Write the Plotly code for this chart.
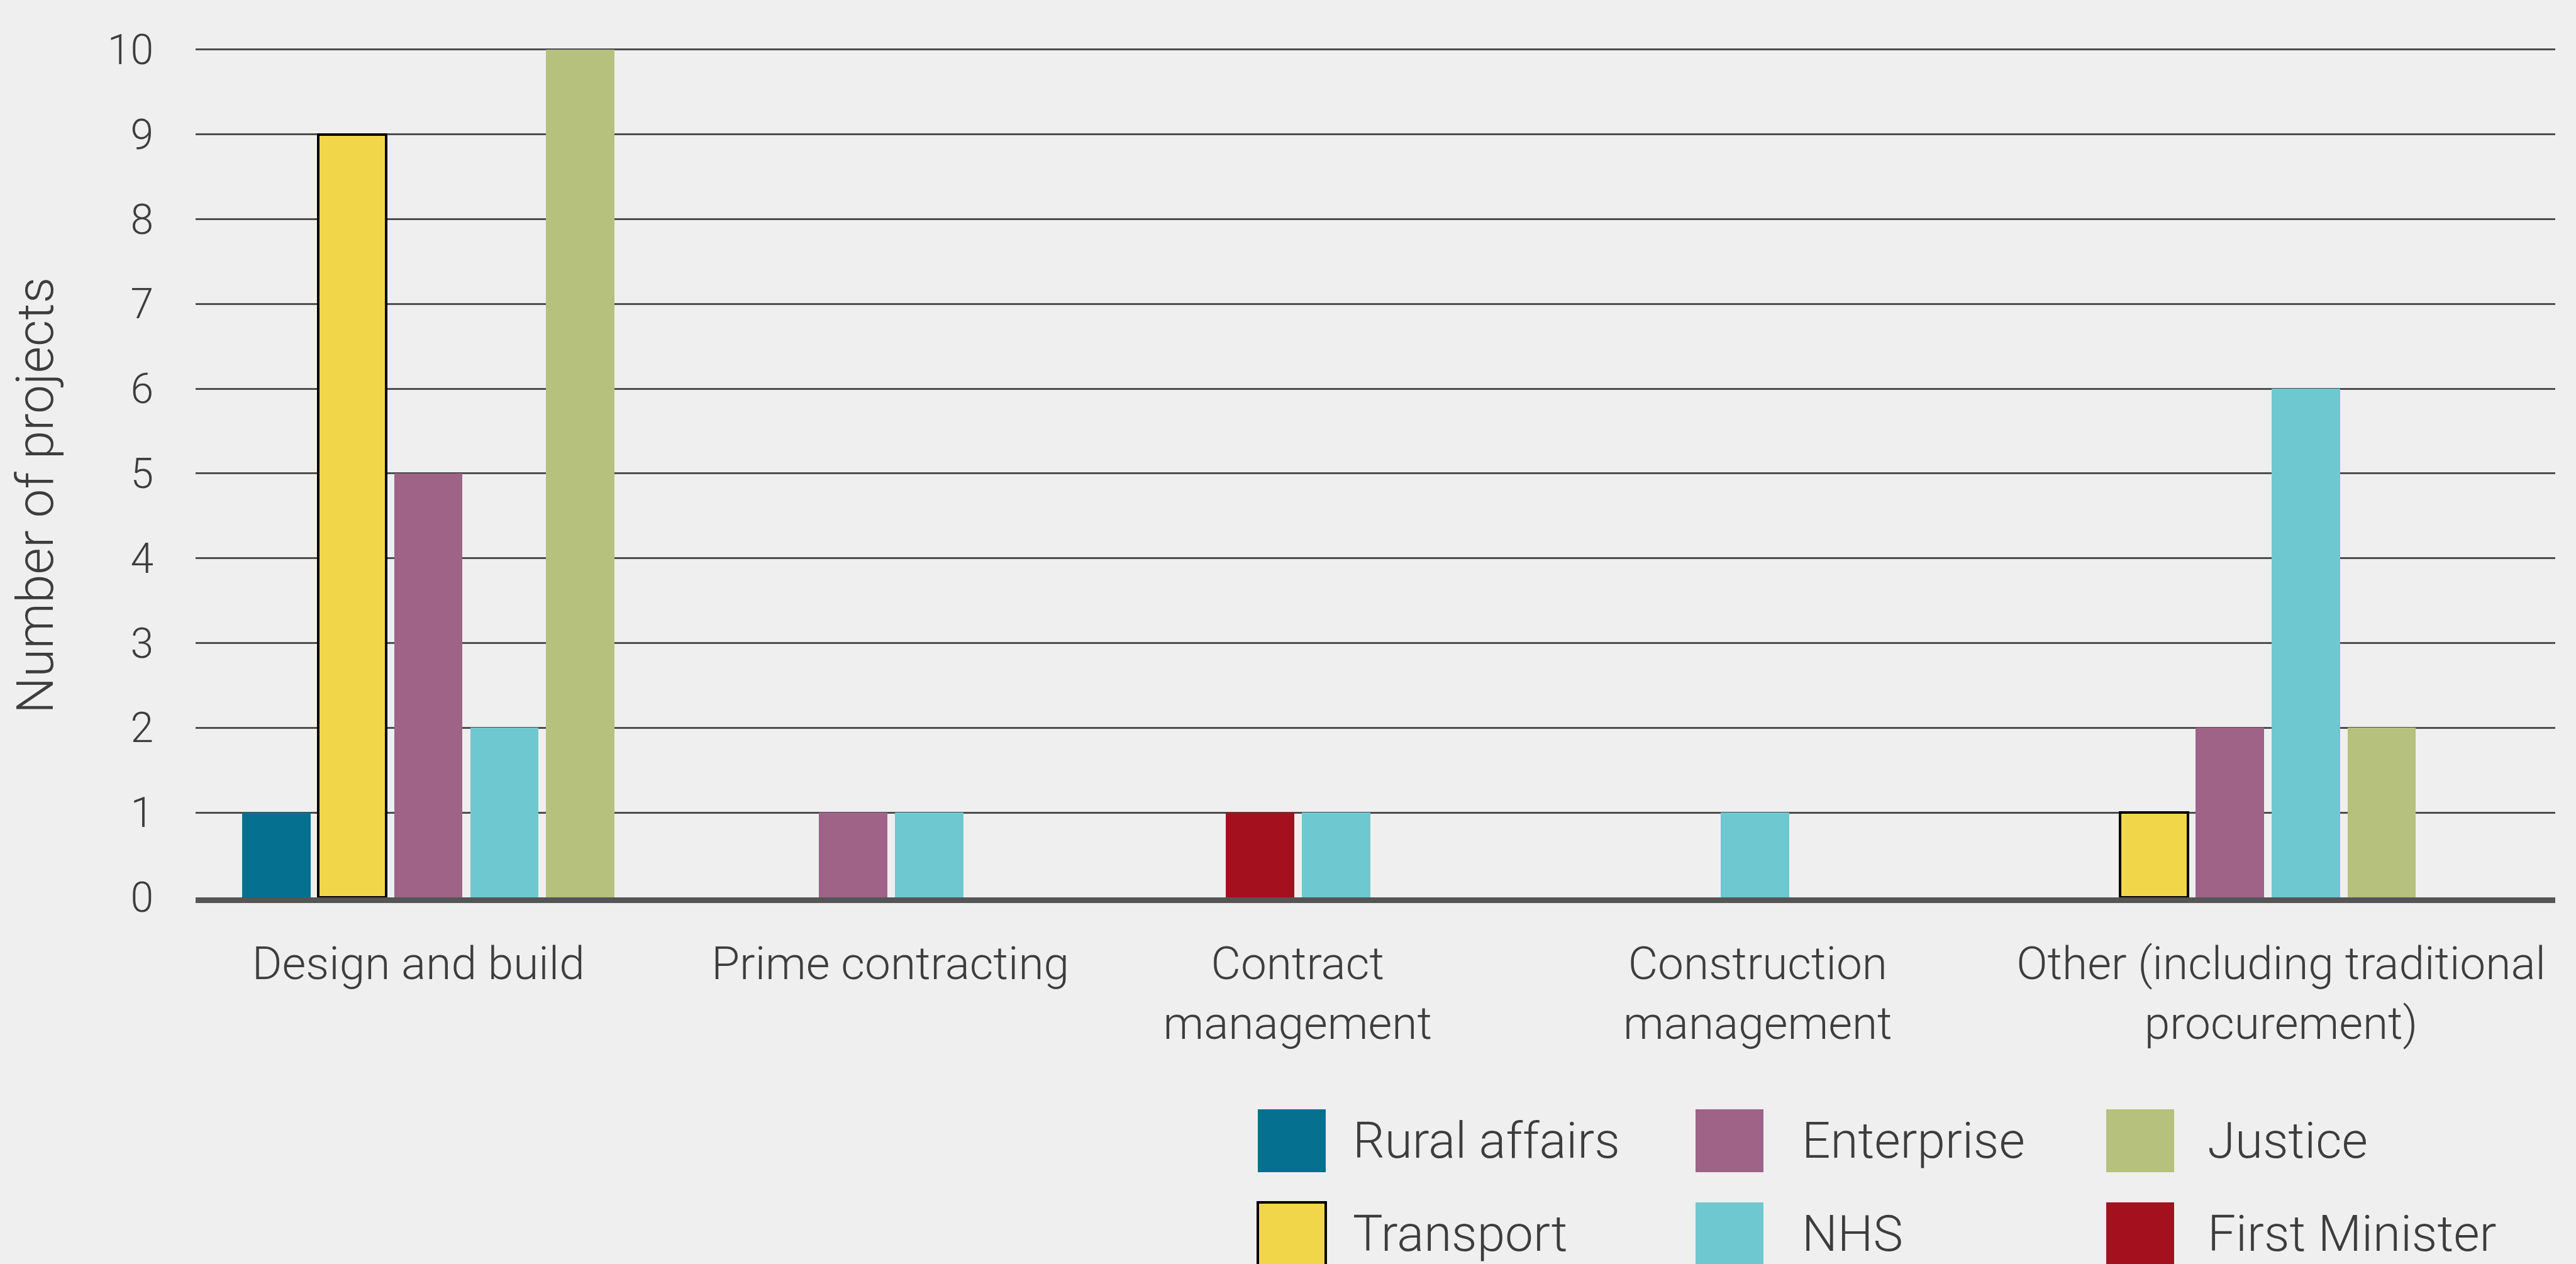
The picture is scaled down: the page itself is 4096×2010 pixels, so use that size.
import plotly.graph_objects as go

# ---- data -----------------------------------------------------------------
categories = [
    "Design and build",
    "Prime contracting",
    "Contract<br>management",
    "Construction<br>management",
    "Other (including traditional<br>procurement)",
]
rural_affairs = [1, 0, 0, 0, 0]
transport = [9, 0, 0, 0, 1]
enterprise = [5, 1, 0, 0, 2]
first_minister = [0, 0, 1, 0, 0]
nhs = [2, 1, 1, 1, 6]
justice = [10, 0, 0, 0, 2]
y_ticks = list(range(0, 11))

# order in which bars sit side by side inside a category
series = [
    ("Rural affairs", rural_affairs, "#05708f"),
    ("Transport", transport, "#f2d64a"),
    ("Enterprise", enterprise, "#9e6387"),
    ("First Minister", first_minister, "#a5101e"),
    ("NHS", nhs, "#6ec8d0"),
    ("Justice", justice, "#b5c17d"),
]
outlined = {"Transport"}

# legend grid: columns left to right, rows top to bottom
legend_grid = [["Rural affairs", "Transport"],
               ["Enterprise", "NHS"],
               ["Justice", "First Minister"]]

# ---- geometry ---------------------------------------------------------------
W, H = 4096, 2010
ML, MR, MT, MB = 311, 33, 52, 583
PW, PH = W - ML - MR, H - MT - MB
Y_MAX = 10.2
X_RANGE = [0, 5]
GROUP_POS = [0.493, 1.474, 2.336, 3.304, 4.391]   # centre of each bar cluster
LABEL_POS = [0.472, 1.472, 2.335, 3.310, 4.419]   # centre of each category label
SLOT = 0.161
BAR_W = 0.1445

FONT = "Roboto"
TEXT = "#3d3d3d"
BG = "#efefef"


def px_x(px):
    return (px - ML) / PW


def px_y(py):
    return (H - MB - py) / PH


# place the non-empty bars of every category next to each other, centred
positions = {name: ([], []) for name, _, _ in series}
for i, centre in enumerate(GROUP_POS):
    present = [(name, vals[i]) for name, vals, _ in series if vals[i] > 0]
    n = len(present)
    for k, (name, v) in enumerate(present):
        positions[name][0].append(centre + (k - (n - 1) / 2) * SLOT)
        positions[name][1].append(v)

fig = go.Figure()
for name, vals, colour in series:
    xs, ys = positions[name]
    fig.add_trace(go.Bar(
        x=xs, y=ys, name=name, width=BAR_W,
        marker=dict(color=colour,
                    line=dict(color="#000000",
                              width=4 if name in outlined else 0)),
        showlegend=False,
    ))

# ---- legend drawn as swatches + labels --------------------------------------
colour_of = {name: c for name, _, c in series}
LEG_SWATCH_X = [2000, 2696, 3349]
LEG_TEXT_X = [2149, 2863, 3508]
LEG_ROW_Y = [1764, 1912]
SW_W, SW_H = 108, 100

shapes = []
annotations = []
for c, column in enumerate(legend_grid):
    for r, name in enumerate(column):
        x0, y0 = LEG_SWATCH_X[c], LEG_ROW_Y[r]
        shapes.append(dict(
            type="rect", xref="paper", yref="paper",
            x0=px_x(x0), x1=px_x(x0 + SW_W),
            y0=px_y(y0), y1=px_y(y0 + SW_H),
            fillcolor=colour_of[name],
            line=dict(color="#000000", width=4) if name in outlined
            else dict(width=0),
            layer="above",
        ))
        annotations.append(dict(
            text=name, xref="paper", yref="paper",
            x=px_x(LEG_TEXT_X[c]), y=px_y(y0 + SW_H / 2),
            xanchor="left", yanchor="middle", showarrow=False,
            font=dict(family=FONT, size=80, color=TEXT, weight=300),
        ))

# y-axis title
annotations.append(dict(
    text="Number of projects", xref="paper", yref="paper",
    x=px_x(56), y=px_y(788), textangle=-90,
    xanchor="center", yanchor="middle", showarrow=False,
    font=dict(family=FONT, size=82, color=TEXT, weight=300),
))

fig.update_layout(
    width=W, height=H,
    margin=dict(l=ML, r=MR, t=MT, b=MB, pad=0),
    paper_bgcolor=BG, plot_bgcolor=BG,
    barmode="overlay",
    bargap=0,
    shapes=shapes,
    annotations=annotations,
    font=dict(family=FONT, color=TEXT, weight=300),
    xaxis=dict(
        range=X_RANGE, tickmode="array",
        tickvals=LABEL_POS, ticktext=categories,
        showgrid=False, zeroline=False,
        showline=True, linecolor="#555555", linewidth=8.5,
        ticks="", ticklabelstandoff=34,
        tickfont=dict(family=FONT, size=73, color=TEXT, weight=300),
        fixedrange=True,
    ),
    yaxis=dict(
        range=[0, Y_MAX], tickmode="array", tickvals=y_ticks,
        showgrid=True, gridcolor="#4d4d4d", gridwidth=2.5,
        zeroline=False, showline=False,
        ticks="", ticklabelstandoff=66,
        tickfont=dict(family=FONT, size=66, color=TEXT, weight=300),
        fixedrange=True,
    ),
)

fig.write_html("out.html")
